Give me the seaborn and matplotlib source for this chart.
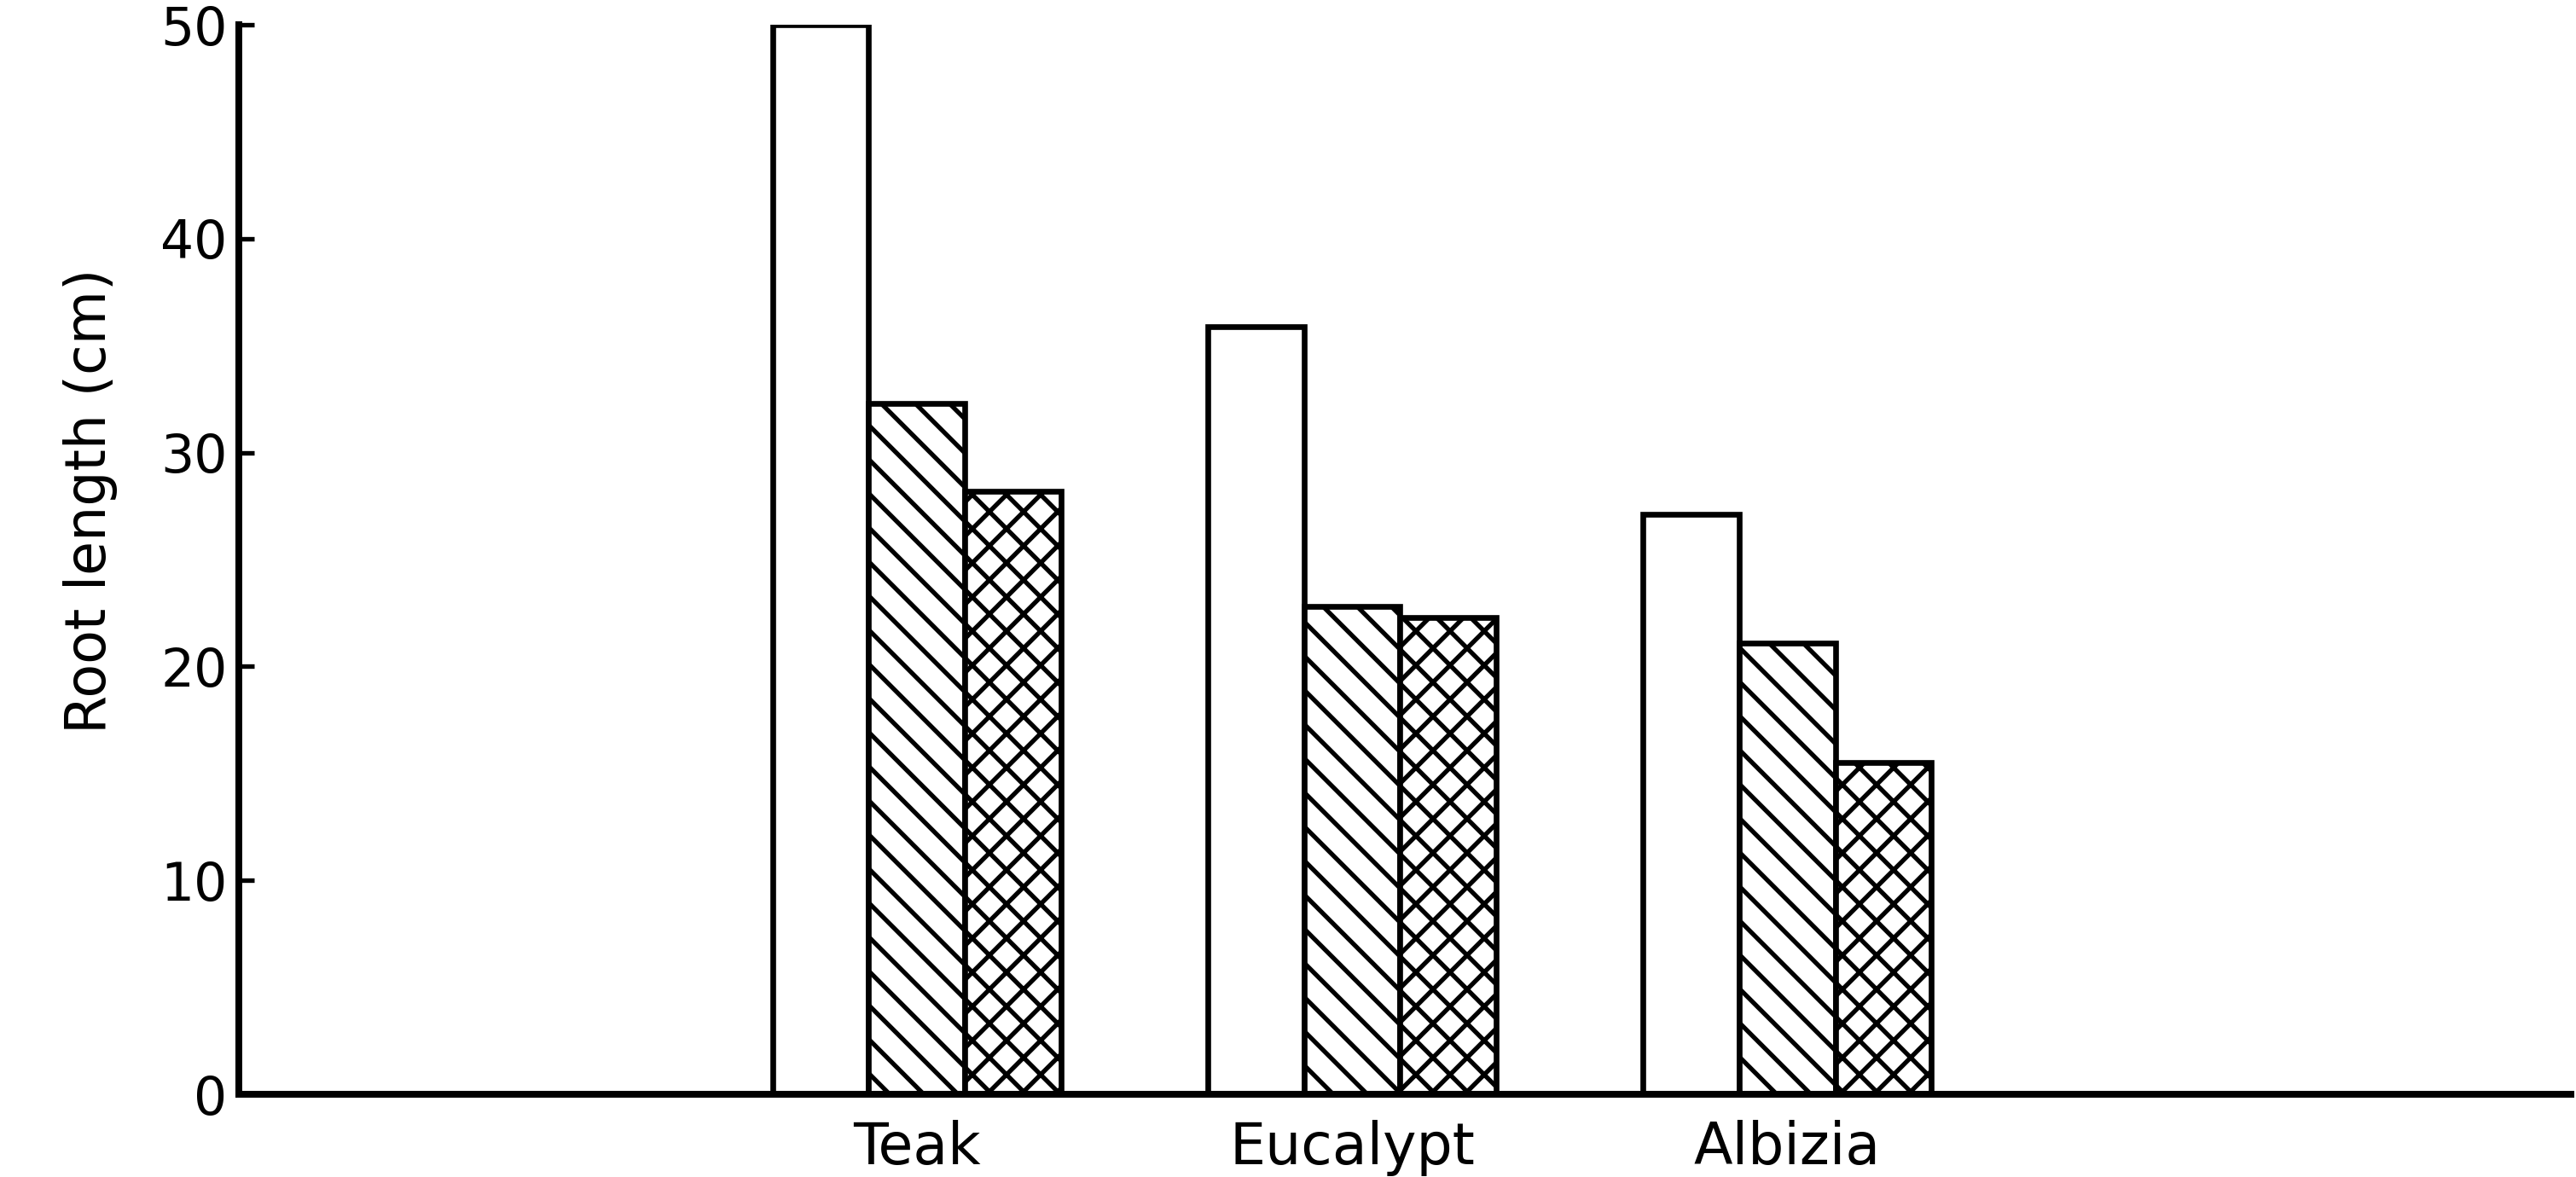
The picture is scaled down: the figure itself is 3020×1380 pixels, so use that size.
import matplotlib
matplotlib.use("Agg")
import matplotlib.pyplot as plt
import seaborn as sns
import pandas as pd

species = ["Teak", "Eucalypt", "Albizia"]
treatments = ["Control", "Treatment A", "Treatment B"]
control_vals = [50.0, 35.9, 27.1]
treat_a_vals = [32.3, 22.8, 21.1]
treat_b_vals = [28.2, 22.3, 15.5]
y_ticks = [0, 10, 20, 30, 40, 50]
hatches = ["", "\\\\", "xx"]

rows = []
for t, vals in zip(treatments, [control_vals, treat_a_vals, treat_b_vals]):
    for s, v in zip(species, vals):
        rows.append({"species": s, "treatment": t, "length": v})
df = pd.DataFrame(rows)

sns.set_theme(style="ticks")
plt.rcParams["font.family"] = ["DejaVu Sans"]
plt.rcParams["hatch.linewidth"] = 1.6
plt.rcParams["hatch.color"] = "black"

DPI = 240
fig = plt.figure(figsize=(3020 / DPI, 1380 / DPI), dpi=DPI)
ax = fig.add_axes([280 / 3020, 1 - 1283 / 1380, (3014 - 280) / 3020, (1283 - 29) / 1380])

sns.barplot(data=df, x="species", y="length", hue="treatment", order=species,
            hue_order=treatments, palette=["white"] * 3, saturation=1,
            edgecolor="black", linewidth=2.0, width=0.662, legend=False, ax=ax)

for cont, h in zip(ax.containers, hatches):
    for bar in cont:
        bar.set_hatch(h)
        bar.set_edgecolor("black")

ax.set_xlim(-1.557, 3.80)
ax.set_ylim(0, 50)
ax.set_yticks(y_ticks)
ax.set_yticklabels([str(v) for v in y_ticks])
ax.tick_params(axis="y", direction="in", length=5.5, width=1.6, labelsize=18.5, pad=4, colors="black")
ax.tick_params(axis="x", length=0, labelsize=20, pad=9, colors="black")

ax.set_xlabel("")
ax.set_ylabel("Root length (cm)", fontsize=19.5, color="black")
ax.yaxis.set_label_coords(-0.052, 0.555)

sns.despine(ax=ax, top=True, right=True)
for side in ["left", "bottom"]:
    ax.spines[side].set_linewidth(2.4)
    ax.spines[side].set_color("black")
ax.set_facecolor("white")
fig.patch.set_facecolor("white")

fig.savefig("out.png", dpi=DPI)
